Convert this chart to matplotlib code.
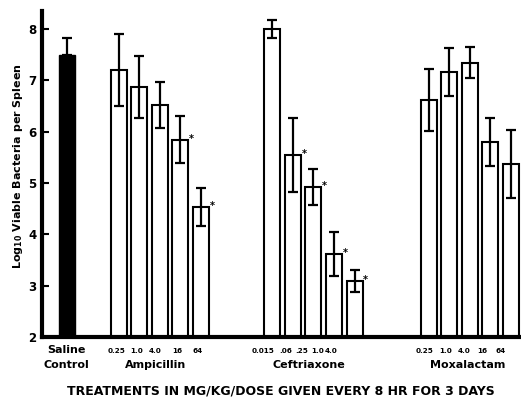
import matplotlib
matplotlib.use("Agg")
import matplotlib.pyplot as plt

plt.rcParams['font.family'] = ['DejaVu Sans']
plt.rcParams['font.weight'] = 'bold'

# --- data ---
control_mean = 7.5
control_err = 0.33

groups = ['Ampicillin', 'Ceftriaxone', 'Moxalactam']
doses = [
    ['0.25', '1.0', '4.0', '16', '64'],
    ['0.015', '.06', '.25', '1.0', '4.0'],
    ['0.25', '1.0', '4.0', '16', '64'],
]
means = [
    [7.2, 6.87, 6.52, 5.84, 4.53],
    [8.0, 5.55, 4.93, 3.62, 3.09],
    [6.62, 7.16, 7.34, 5.80, 5.37],
]
errs = [
    [0.70, 0.60, 0.45, 0.46, 0.37],
    [0.18, 0.72, 0.35, 0.43, 0.22],
    [0.60, 0.46, 0.30, 0.46, 0.66],
]
signif = [
    [False, False, False, True, True],
    [False, True, True, True, True],
    [False, False, False, False, False],
]

# layout: bar groups and the (slightly squeezed) dose label positions
group_start = [2.52, 10.0, 17.6]
label_pos = [
    [2.43, 3.37, 4.30, 5.39, 6.36],
    [9.54, 10.63, 11.41, 12.18, 12.86],
    [17.43, 18.42, 19.32, 20.22, 21.09],
]
name_pos = [4.32, 11.78, 19.5]
width = 0.78

fig = plt.figure(figsize=(5.21, 3.97), dpi=100)
ax = fig.add_axes([42 / 521, 60 / 397, 479 / 521, 326 / 397])

# saline control
ax.bar(0, control_mean - 2, bottom=2, width=width, color='black', edgecolor='black')
ax.errorbar(0, control_mean, yerr=[[0], [control_err]], fmt='none', ecolor='black',
            elinewidth=1.6, capsize=3.5, capthick=1.6)

for g in range(len(groups)):
    xs = [group_start[g] + i for i in range(len(means[g]))]
    heights = [m - 2 for m in means[g]]
    ax.bar(xs, heights, bottom=2, width=width, color='white', edgecolor='black', linewidth=1.5)
    ax.errorbar(xs, means[g], yerr=errs[g], fmt='none', ecolor='black',
                elinewidth=1.6, capsize=3.5, capthick=1.6)
    for x, m, s in zip(xs, means[g], signif[g]):
        if s:
            ax.text(x + width / 2 + 0.03, m + 0.02, '*', ha='left', va='center', fontsize=7)
    for x, d in zip(label_pos[g], doses[g]):
        ax.text(x, 1.73, d, ha='center', va='center', fontsize=5.2)
    ax.text(name_pos[g], 1.46, groups[g], ha='center', va='center', fontsize=8)

ax.text(0, 1.74, 'Saline', ha='center', va='center', fontsize=8)
ax.text(0, 1.46, 'Control', ha='center', va='center', fontsize=8)

ax.set_xlim(-1.21, 22.1)
ax.set_ylim(2, 8.35)
ax.set_yticks([2, 3, 4, 5, 6, 7, 8])
ax.set_yticklabels(['2', '3', '4', '5', '6', '7', '8'], fontsize=8.5, fontweight='bold')
ax.set_xticks([])
ax.tick_params(axis='y', direction='in', length=5, width=1.5, pad=4)
for s in ['top', 'right']:
    ax.spines[s].set_visible(False)
ax.spines['left'].set_linewidth(3)
ax.spines['bottom'].set_linewidth(3)

fig.text(18 / 521, 1 - 166 / 397, r'Log$_{\mathbf{10}}$ Viable Bacteria per Spleen', rotation=90,
         ha='center', va='center', fontsize=8, fontweight='bold')
fig.text(281 / 521, 1 - 391 / 397, 'TREATMENTS IN MG/KG/DOSE GIVEN EVERY 8 HR FOR 3 DAYS',
         ha='center', va='center', fontsize=9, fontweight='bold')

fig.savefig('out.png', dpi=100)
